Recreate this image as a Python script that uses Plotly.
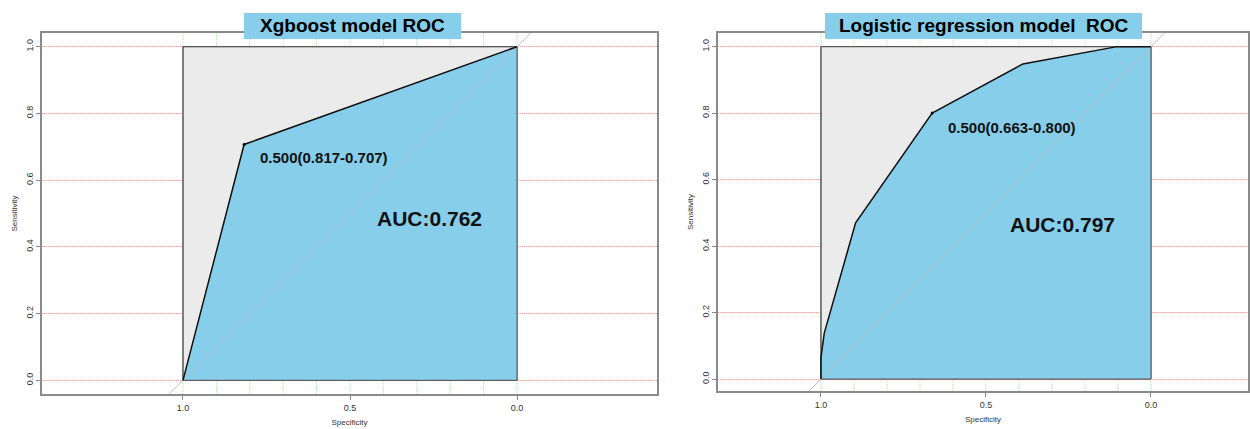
import plotly.graph_objects as go

W, H = 1250, 429

# ---------------- data ----------------
titles = ["Xgboost model ROC", "Logistic regression model  ROC"]

xgb_spec = [1.0, 0.817, 0.0]
xgb_sens = [0.0, 0.707, 1.0]
xgb_thr = (0.817, 0.707)
xgb_thr_label = "0.500(0.817-0.707)"
xgb_auc_label = "AUC:0.762"

lr_spec = [1.0, 1.0, 0.99, 0.895, 0.663, 0.388, 0.103, 0.0]
lr_sens = [0.0, 0.065, 0.138, 0.470, 0.800, 0.948, 1.0, 1.0]
lr_thr = (0.663, 0.800)
lr_thr_label = "0.500(0.663-0.800)"
lr_auc_label = "AUC:0.797"

x_ticks = [1.0, 0.5, 0.0]
x_tick_text = ["1.0", "0.5", "0.0"]
y_ticks = [0.0, 0.2, 0.4, 0.6, 0.8, 1.0]
y_tick_text = ["0.0", "0.2", "0.4", "0.6", "0.8", "1.0"]
green_grid = [1.0, 0.9, 0.8, 0.7, 0.6, 0.5, 0.4, 0.3, 0.2, 0.1, 0.0]

# ---------------- style / layout ----------------
BLUE = "#87CEEB"
GREY_FILL = "#EBEBEB"
BOX_LINE = "#555555"
FRAME = "#8a8a8a"
FONT = "Liberation Sans, Arial, sans-serif"

panels = [
    dict(spec=xgb_spec, sens=xgb_sens, thr=xgb_thr, thr_label=xgb_thr_label,
         auc_label=xgb_auc_label, title=titles[0],
         px=(42, 657), py=(33, 394), xr=[1.422, -0.419], yr=[-0.041, 1.041],
         label_pos=(0.775, 0.669), auc_pos=(0.262, 0.485),
         title_box=(244, 461, 13, 39)),
    dict(spec=lr_spec, sens=lr_sens, thr=lr_thr, thr_label=lr_thr_label,
         auc_label=lr_auc_label, title=titles[1],
         px=(718, 1248), py=(33, 391), xr=[1.312, -0.294], yr=[-0.036, 1.041],
         label_pos=(0.621, 0.758), auc_pos=(0.267, 0.466),
         title_box=(825, 1142, 13, 39)),
]

fig = go.Figure()
shapes = []
annotations = []

for i, p in enumerate(panels):
    xa = "x" if i == 0 else "x2"
    ya = "y" if i == 0 else "y2"
    y0, y1 = p["yr"]

    # green dotted vertical grid
    gx, gy = [], []
    for g in green_grid:
        gx += [g, g, None]
        gy += [y0, y1, None]
    fig.add_trace(go.Scatter(x=gx, y=gy, mode="lines", xaxis=xa, yaxis=ya,
                             line=dict(color="#a8eea8", width=1, dash="1px,1px"),
                             hoverinfo="skip", showlegend=False))
    # grey max-AUC box
    bx = [1.0, 1.0, 0.0, 0.0, 1.0]
    by = [0.0, 1.0, 1.0, 0.0, 0.0]
    fig.add_trace(go.Scatter(x=bx, y=by, mode="lines", fill="toself",
                             fillcolor=GREY_FILL, xaxis=xa, yaxis=ya,
                             line=dict(color=BOX_LINE, width=1),
                             hoverinfo="skip", showlegend=False))
    # blue AUC polygon
    ax = list(p["spec"]) + [0.0, 1.0]
    ay = list(p["sens"]) + [0.0, 0.0]
    fig.add_trace(go.Scatter(x=ax, y=ay, mode="lines", fill="toself",
                             fillcolor=BLUE, xaxis=xa, yaxis=ya,
                             line=dict(color=BLUE, width=0),
                             hoverinfo="skip", showlegend=False))
    # box outline again on top
    fig.add_trace(go.Scatter(x=bx, y=by, mode="lines", xaxis=xa, yaxis=ya,
                             line=dict(color=BOX_LINE, width=1),
                             hoverinfo="skip", showlegend=False))
    # diagonal
    fig.add_trace(go.Scatter(x=[1 - y0, 1 - y1], y=[y0, y1], mode="lines",
                             xaxis=xa, yaxis=ya,
                             line=dict(color="#bcbcbc", width=1),
                             hoverinfo="skip", showlegend=False))
    # ROC curve
    fig.add_trace(go.Scatter(x=p["spec"], y=p["sens"], mode="lines",
                             xaxis=xa, yaxis=ya,
                             line=dict(color="#111111", width=1.5),
                             hoverinfo="skip", showlegend=False))
    # threshold point
    fig.add_trace(go.Scatter(x=[p["thr"][0]], y=[p["thr"][1]], mode="markers",
                             xaxis=xa, yaxis=ya,
                             marker=dict(color="black", size=3),
                             hoverinfo="skip", showlegend=False))

    annotations.append(dict(x=p["label_pos"][0], y=p["label_pos"][1], xref=xa, yref=ya,
                            text="<b>%s</b>" % p["thr_label"], showarrow=False,
                            xanchor="left", yanchor="middle",
                            font=dict(family=FONT, size=15, color="#111111")))
    annotations.append(dict(x=p["auc_pos"][0], y=p["auc_pos"][1], xref=xa, yref=ya,
                            text="<b>%s</b>" % p["auc_label"], showarrow=False,
                            xanchor="center", yanchor="middle",
                            font=dict(family=FONT, size=21, color="#111111")))

    # title box
    tx0, tx1, ty0, ty1 = p["title_box"]
    shapes.append(dict(type="rect", xref="paper", yref="paper",
                       x0=tx0 / W, x1=tx1 / W, y0=1 - ty1 / H, y1=1 - ty0 / H,
                       fillcolor=BLUE, line=dict(width=0), layer="above"))
    annotations.append(dict(x=(tx0 + tx1) / 2 / W, y=1 - (ty0 + ty1) / 2 / H,
                            xref="paper", yref="paper",
                            text="<b>%s</b>" % p["title"], showarrow=False,
                            xanchor="center", yanchor="middle",
                            font=dict(family=FONT, size=19, color="black")))

    xdom = [p["px"][0] / W, p["px"][1] / W]
    ydom = [1 - p["py"][1] / H, 1 - p["py"][0] / H]
    axis_common = dict(showline=True, mirror=True, linecolor=FRAME, linewidth=1.5,
                       ticks="outside", ticklen=4, tickcolor=FRAME, zeroline=False,
                       tickfont=dict(family=FONT, size=9, color="#333333"))
    xaxis = dict(domain=xdom, range=p["xr"], tickmode="array", tickvals=x_ticks,
                 ticktext=x_tick_text, showgrid=False,
                 anchor=ya, title=dict(text="Specificity", standoff=8,
                                       font=dict(family=FONT, size=8, color="#333333")),
                 **axis_common)
    yaxis = dict(domain=ydom, range=p["yr"], tickmode="array", tickvals=y_ticks,
                 ticktext=y_tick_text, tickangle=-90, showgrid=True,
                 gridcolor="rgba(245,110,110,0.7)", griddash="1px,1px", gridwidth=1,
                 anchor=xa, title=dict(text="Sensitivity", standoff=6,
                                       font=dict(family=FONT, size=8, color="#333333")),
                 **axis_common)
    if i == 0:
        fig.update_layout(xaxis=xaxis, yaxis=yaxis)
    else:
        fig.update_layout(xaxis2=xaxis, yaxis2=yaxis)

fig.update_layout(width=W, height=H, margin=dict(l=0, r=0, t=0, b=0),
                  paper_bgcolor="white", plot_bgcolor="white",
                  shapes=shapes, annotations=annotations, showlegend=False)

fig.write_html("out.html")
